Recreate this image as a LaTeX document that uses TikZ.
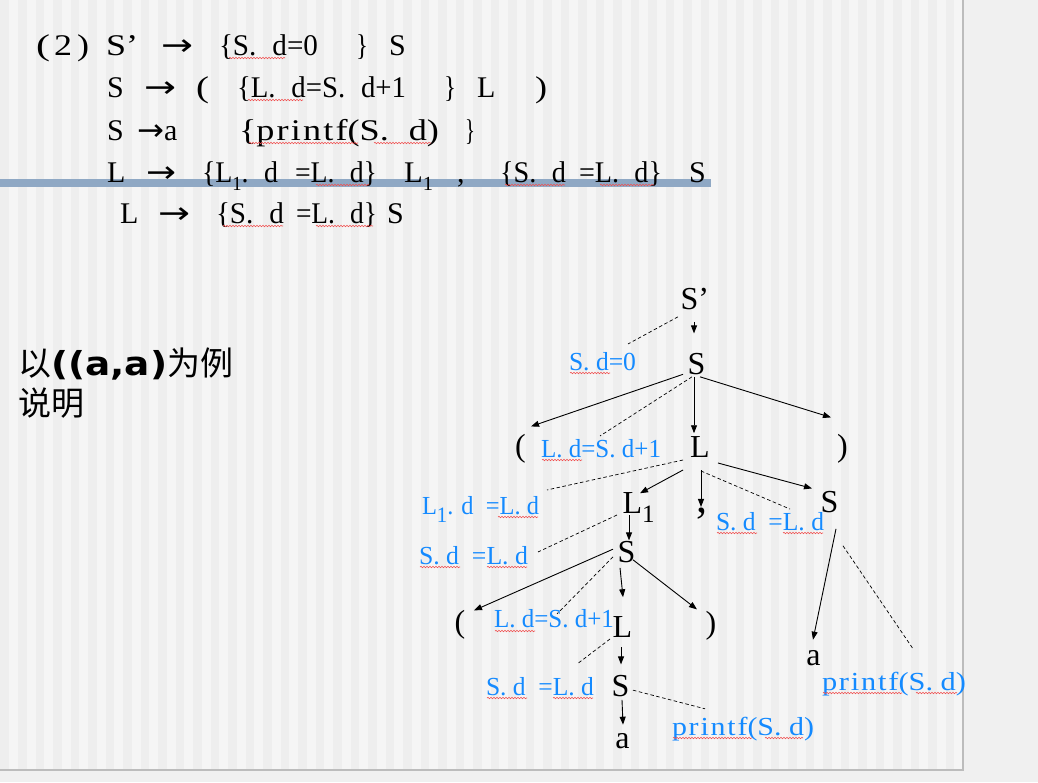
\documentclass[tikz,border=0pt]{standalone}
\usepackage{fontspec}
\usepackage{graphicx}
\usetikzlibrary{arrows.meta,decorations.pathmorphing}
\setmainfont{Liberation Serif}
\newfontfamily\cjkfont{Noto Sans CJK SC}
\newfontfamily\dejavu{DejaVu Sans}
\definecolor{lblue}{RGB}{20,138,255}
\definecolor{barblue}{RGB}{143,168,196}
\definecolor{sqred}{RGB}{240,80,80}
\definecolor{stripelight}{RGB}{245,245,245}
\definecolor{stripedark}{RGB}{238,238,238}
\definecolor{plain}{RGB}{240,240,240}
\definecolor{rulegrey}{RGB}{188,188,188}
% scale a piece of text to a given width, keeping its height
\newcommand\fitw[2]{\resizebox{#1pt}{\height}{#2}}
\newcommand\dotgap{\hspace{0.55em}}
\newcommand\subone[2]{\raisebox{-#1pt}{\fontsize{#2}{#2}\selectfont 1}}
\newcommand\spaced[1]{{\addfontfeature{LetterSpace=6}#1}}
\newcommand\arrowglyph[1]{{\dejavu\fitw{#1}{→}}}
\begin{document}
\begin{tikzpicture}[x=1pt,y=-1pt,
  tx/.style={anchor=base west, inner sep=0, outer sep=0, font=\fontsize{30}{36}\selectfont},
  tn/.style={anchor=base, inner sep=0, outer sep=0, font=\fontsize{32}{38}\selectfont},
  lb/.style={anchor=base west, inner sep=0, outer sep=0, text=lblue, font=\fontsize{26}{30}\selectfont},
  arr/.style={-{Triangle[length=8pt,width=6pt]}, line width=0.9pt},
  dsh/.style={dashed, dash pattern=on 3.5pt off 2.5pt, line width=0.7pt},
  squig/.style={sqred, line width=0.6pt, decorate, decoration={snake, amplitude=0.7pt, segment length=3pt}}]
\useasboundingbox (0,0) rectangle (1038,782);

% page background with vertical stripes
\fill[plain] (0,0) rectangle (1038,782);
\fill[stripedark] (0,0) rectangle (963,770);
\foreach \k in {0,...,54} \fill[stripelight] ({9+17.5*\k},0) rectangle ({18+17.5*\k},770);
\draw[rulegrey, line width=1.3pt] (963,0) -- (963,770) -- (0,770);

% title bar
\fill[barblue] (0,179) rectangle (711,187);

% grammar with semantic actions
\node[tx] (t1a) at (36,55) {\fitw{14}{(}};
\node[tx] (t1b) at (54,55) {\fitw{18}{2}};
\node[tx] (t1c) at (77,55) {\fitw{12}{)}};
\node[tx] (t1d) at (106,55) {\fitw{32}{S’}};
\node[tx] (t1e) at (161,55) {\arrowglyph{32}};
\node[tx] (t1f) at (219,55) {\fitw{99}{\{S.\dotgap d=0}};
\node[tx] (t1g) at (356,55) {\fitw{12}{\}}};
\node[tx] (t1h) at (389,55) {S};

\node[tx] (t2a) at (107,97) {S};
\node[tx] (t2b) at (144,97) {\arrowglyph{32}};
\node[tx] (t2c) at (196,97) {\fitw{13}{(}};
\node[tx] (t2d) at (237,97) {\fitw{169}{\{L.\dotgap d=S.\dotgap d+1}};
\node[tx] (t2e) at (444,97) {\fitw{12}{\}}};
\node[tx] (t2f) at (477,97) {L};
\node[tx] (t2g) at (535,97) {\fitw{12}{)}};

\node[tx] (t3a) at (107,140) {S};
\node[tx] (t3b) at (137,140) {\arrowglyph{27}};
\node[tx] (t3c) at (164,140) {a};
\node[tx] (t3d) at (239,140) {\fitw{200}{\{\spaced{printf}(S.\dotgap d)}};
\node[tx] (t3e) at (465,140) {\fitw{10}{\}}};

\node[tx] (t4a) at (107,182) {L};
\node[tx] (t4b) at (146,182) {\arrowglyph{30}};
\node[tx] (t4c) at (202,182) {\fitw{76}{\{L\subone{8}{20}.\dotgap d}};
\node[tx] (t4d) at (295,182) {\fitw{82}{=L.\dotgap d\}}};
\node[tx] (t4e) at (404,182) {\fitw{29}{L\subone{8}{20}}};
\node[tx] (t4f) at (457,182) {,};
\node[tx] (t4g) at (500,182) {\fitw{66}{\{S.\dotgap d}};
\node[tx] (t4h) at (579,182) {\fitw{83}{=L.\dotgap d\}}};
\node[tx] (t4i) at (689,182) {S};

\node[tx] (t5a) at (120,223) {L};
\node[tx] (t5b) at (158,223) {\arrowglyph{32}};
\node[tx] (t5c) at (216,223) {\fitw{68}{\{S.\dotgap d}};
\node[tx] (t5d) at (296,223) {\fitw{81}{=L.\dotgap d\}}};
\node[tx] (t5e) at (387,223) {S};

% spelling marks under the grammar
\draw[squig] (229,58) -- (285,58);
\draw[squig] (248,100) -- (303,100);
\draw[squig] (249,143) -- (358,143);
\draw[squig] (374,143) -- (431,143);
\draw[squig] (316,185) -- (369,185);
\draw[squig] (505,185) -- (565,185);
\draw[squig] (600,185) -- (654,185);
\draw[squig] (223,226) -- (283,226);
\draw[squig] (316,226) -- (373,226);

% example caption
\node[anchor=base west, inner sep=0] (ex1) at (18,375)
  {\fontsize{33}{38}\selectfont\cjkfont 以{\dejavu\bfseries\fitw{116}{((a,a)}}为例};
\node[anchor=base west, inner sep=0] (ex2) at (18,415)
  {\fontsize{33}{38}\selectfont\cjkfont 说明};

% annotated parse tree
\node[tn] (sp) at (694.8,309) {S’};
\node[tn] (s1) at (696.5,374) {S};
\node[tn] (lp1) at (520.5,456.3) {(};
\node[tn] (l1) at (700,457) {L};
\node[tn] (rp1) at (842.5,456.3) {)};
\node[tn] (l1s) at (638.6,513) {L\subone{9}{25}};
\node[tn, font=\fontsize{44}{50}\selectfont] (cm) at (702,512) {,};
\node[tn] (sr) at (829.5,512) {S};
\node[tn] (s3) at (626.5,562) {S};
\node[tn] (lp2) at (460,632) {(};
\node[tn] (l2) at (622.5,637) {L};
\node[tn] (rp2) at (711,633.5) {)};
\node[tn] (s4) at (620.5,696) {S};
\node[tn] (a1) at (622.5,748) {a};
\node[tn] (ar) at (813.5,665) {a};

% attribute actions
\node[lb] (lb0) at (569,370) {\fitw{67}{S. d=0}};
\node[lb] (lb1) at (541,457) {\fitw{120}{L. d=S. d+1}};
\node[lb] (lb2) at (422,514) {\fitw{117}{L\subone{8}{22}. d\ \ =L. d}};
\node[lb] (lb3) at (419,564) {\fitw{109}{S. d\ \ =L. d}};
\node[lb] (lb4) at (716,530) {\fitw{108}{S. d\ \ =L. d}};
\node[lb] (lb5) at (494,627) {\fitw{120}{L. d=S. d+1}};
\node[lb] (lb6) at (486,695) {\fitw{108}{S. d\ \ =L. d}};
\node[lb] (lb7) at (672,735) {\fitw{142}{\spaced{printf}(S. d)}};
\node[lb] (lb8) at (822,690) {\fitw{144}{\spaced{printf}(S. d)}};

\draw[squig] (570,373) -- (610,373);
\draw[squig] (542,460) -- (582,460);
\draw[squig] (498,517) -- (538,517);
\draw[squig] (420,567) -- (460,567);
\draw[squig] (487,567) -- (527,567);
\draw[squig] (717,533) -- (757,533);
\draw[squig] (783,533) -- (823,533);
\draw[squig] (495,631) -- (535,631);
\draw[squig] (487,698) -- (527,698);
\draw[squig] (553,698) -- (593,698);
\draw[squig] (673,738) -- (752,738);
\draw[squig] (765,738) -- (803,738);
\draw[squig] (823,693) -- (902,693);
\draw[squig] (916,693) -- (957,693);

% tree edges
\draw[arr] ([shift={(-0.8,12.5)}]sp.south) -- ([shift={(-2.5,-19.4)}]s1.north);
\draw[arr] ([shift={(-4.6,0)}]s1.south west) -- ([shift={(5.2,-7.7)}]lp1.north east);
\draw[arr] ([shift={(-2.5,2.5)}]s1.south) -- ([shift={(-6,-2.8)}]l1.north);
\draw[arr] ([shift={(3.5,2.5)}]s1.south) -- ([shift={(-6.2,-16.7)}]rp1.north west);
\draw[arr] ([shift={(-7.2,13)}]l1.south west) -- ([shift={(1.4,1.2)}]l1s.north);
\draw[arr] ([shift={(1,13)}]l1.south) -- ([shift={(-1,-0.5)}]cm.north);
\draw[arr] ([shift={(8.2,6)}]l1.south east) -- ([shift={(-8.6,-2.4)}]sr.north west);
\draw[arr] ([shift={(-9.6,-7)}]l1s.south) -- ([shift={(2.5,-0.4)}]s3.north);
\draw[arr] ([shift={(-4.6,-2.4)}]s3.west) -- ([shift={(8.7,0.6)}]lp2.north east);
\draw[arr] ([shift={(-6.5,5.5)}]s3.south) -- ([shift={(0.5,-18.8)}]l2.north);
\draw[arr] ([shift={(-2.4,-2.5)}]s3.south east) -- ([shift={(-8.7,-1.9)}]rp2.north west);
\draw[arr] ([shift={(-1.5,10)}]l2.south) -- ([shift={(0.5,-10.4)}]s4.north);
\draw[arr] ([shift={(1.5,3.5)}]s4.south) -- ([shift={(0.5,-8.3)}]a1.north);
\draw[arr] ([shift={(6.5,16.5)}]sr.south) -- ([shift={(-0.5,-10.3)}]ar.north);

% links from tree nodes to their actions
\draw[dsh] ([shift={(-2.6,7.5)}]sp.south west) -- ([shift={(-8,-8)}]lb0.north east);
\draw[dsh] ([shift={(-4.5,2.5)}]s1.south) -- ([shift={(-1,-3)}]lb1.north);
\draw[dsh] ([shift={(-7.2,3)}]l1.south west) -- ([shift={(8,-6)}]lb2.north east);
\draw[dsh] ([shift={(1,14)}]l1.south) -- ([shift={(20,-2.9)}]lb4.north);
\draw[dsh] ([shift={(-5.6,-7)}]l1s.south west) -- ([shift={(10,6)}]lb3.north east);
\draw[dsh] ([shift={(-4.6,-5.5)}]s3.south west) -- ([shift={(3,5)}]lb5.north);
\draw[dsh] ([shift={(-2.7,2)}]l2.south west) -- ([shift={(-17,-12.9)}]lb6.north east);
\draw[dsh] ([shift={(3.6,4.6)}]s4.east) -- ([shift={(33,-7.9)}]lb7.north west);
\draw[dsh] ([shift={(4.6,33.5)}]sr.south east) -- ([shift={(19,-22.9)}]lb8.north);
\end{tikzpicture}
\end{document}
